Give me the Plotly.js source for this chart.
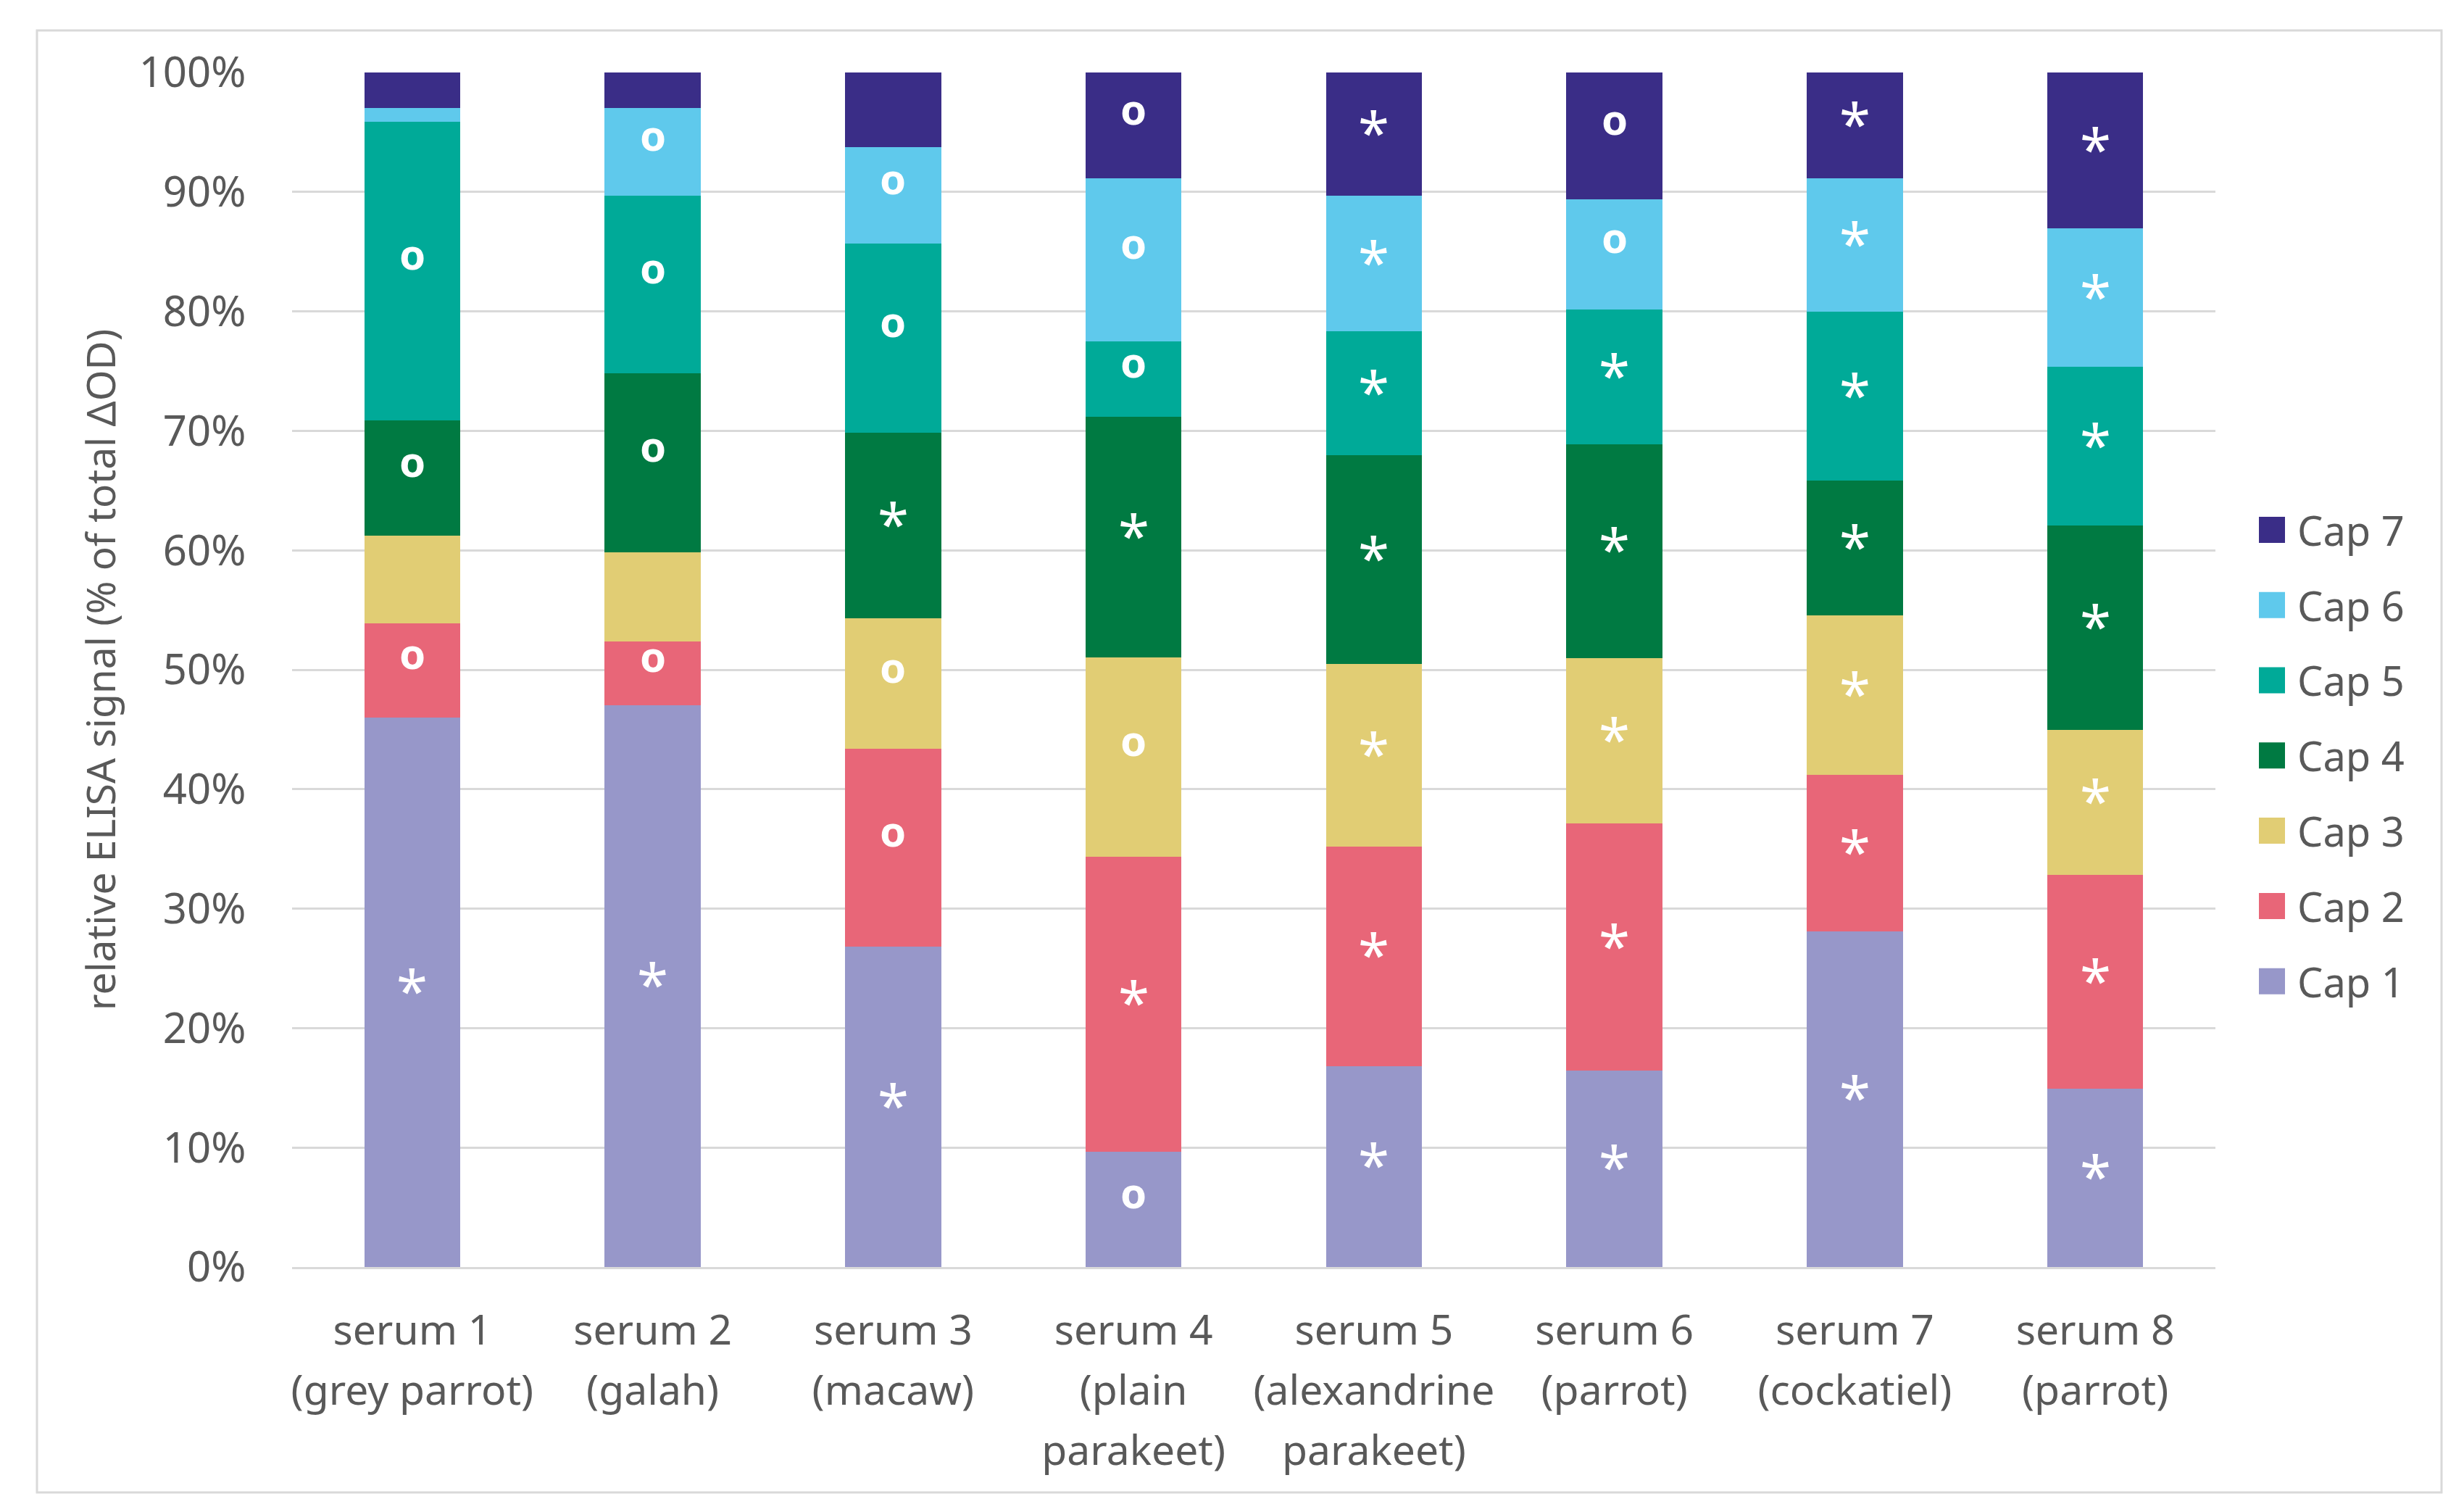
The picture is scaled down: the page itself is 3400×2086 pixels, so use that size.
<!DOCTYPE html>
<html>
<head>
<meta charset="utf-8">
<script src="https://cdn.plot.ly/plotly-3.0.1.min.js"></script>
<style>
  html, body { margin: 0; padding: 0; background: #ffffff; }
  #chart { width: 3400px; height: 2086px; }
</style>
</head>
<body>
<div id="chart"></div>
<script>
// ---------- data ----------
const categories = [
  'serum 1<br>(grey parrot)',
  'serum 2<br>(galah)',
  'serum 3<br>(macaw)',
  'serum 4<br>(plain<br>parakeet)',
  'serum 5<br>(alexandrine<br>parakeet)',
  'serum 6<br>(parrot)',
  'serum 7<br>(cockatiel)',
  'serum 8<br>(parrot)'
];
const seriesNames = ['Cap 1', 'Cap 2', 'Cap 3', 'Cap 4', 'Cap 5', 'Cap 6', 'Cap 7'];

// relative ELISA signal, % of total ΔOD
const cap1 = [46.0, 47.05, 26.8, 9.67, 16.81, 16.47, 28.11, 14.92];
const cap2 = [7.9, 5.3, 16.56, 24.66, 18.41, 20.64, 13.07, 17.9];
const cap3 = [7.3, 7.47, 10.92, 16.71, 15.24, 13.89, 13.38, 12.15];
const cap4 = [9.7, 15.02, 15.59, 20.16, 17.49, 17.88, 11.26, 17.1];
const cap5 = [25.0, 14.82, 15.79, 6.27, 10.37, 11.3, 14.13, 13.27];
const cap6 = [1.15, 7.39, 8.09, 13.66, 11.38, 9.21, 11.18, 11.61];
const cap7 = [2.95, 2.95, 6.24, 8.87, 10.3, 10.61, 8.87, 13.05];

// significance symbols per segment
const sig1 = ['*', '*', '*', 'o', '*', '*', '*', '*'];
const sig2 = ['o', 'o', 'o', '*', '*', '*', '*', '*'];
const sig3 = ['', '', 'o', 'o', '*', '*', '*', '*'];
const sig4 = ['o', 'o', '*', '*', '*', '*', '*', '*'];
const sig5 = ['o', 'o', 'o', 'o', '*', '*', '*', '*'];
const sig6 = ['', 'o', 'o', 'o', '*', 'o', '*', '*'];
const sig7 = ['', '', '', 'o', '*', 'o', '*', '*'];

const yTickVals = [0, 10, 20, 30, 40, 50, 60, 70, 80, 90, 100];
const yTickText = ['0%', '10%', '20%', '30%', '40%', '50%', '60%', '70%', '80%', '90%', '100%'];

// ---------- styling ----------
const colors = ['#9797C9', '#E86678', '#E1CD74', '#007A42', '#00AA98', '#5FC9EC', '#3A2D87'];
const series = [cap1, cap2, cap3, cap4, cap5, cap6, cap7];
const sigs = [sig1, sig2, sig3, sig4, sig5, sig6, sig7];
const FONT = '"Noto Sans", "Open Sans", sans-serif';
const GREY = '#595959';

const traces = series.map((vals, i) => ({
  type: 'bar',
  name: seriesNames[i],
  x: categories,
  y: vals,
  marker: { color: colors[i], line: { width: 0 } },
  legendgroup: 'g' + i,
  legendrank: 100 - i,
  hoverinfo: 'skip'
}));

// annotations at segment centres (computed from the data)
const annotations = [];
const cum = categories.map(() => 0);
series.forEach((vals, i) => {
  vals.forEach((v, j) => {
    const mid = cum[j] + v / 2;
    const s = sigs[i][j];
    if (s === '*') {
      annotations.push({
        x: categories[j], y: mid, xref: 'x', yref: 'y', text: '*', showarrow: false,
        font: { family: FONT, size: 78, color: '#ffffff' }, yshift: 3
      });
    } else if (s === 'o') {
      annotations.push({
        x: categories[j], y: mid, xref: 'x', yref: 'y', text: 'o', showarrow: false,
        font: { family: FONT, size: 58, color: '#ffffff', weight: 'bold' }, yshift: 24
      });
    }
    cum[j] += v;
  });
});

const W = 3400, H = 2086;
const M = { l: 403, r: 343, t: 100, b: 338 };
const pw = W - M.l - M.r, ph = H - M.t - M.b;
const px = v => (v - M.l) / pw;
const py = v => (H - M.b - v) / ph;

const layout = {
  width: W, height: H,
  margin: M,
  paper_bgcolor: '#ffffff',
  plot_bgcolor: '#ffffff',
  barmode: 'stack',
  bargap: 0.6,
  font: { family: FONT, color: GREY, size: 56 },
  showlegend: true,
  legend: {
    x: px(3100), xanchor: 'left',
    y: py(688), yanchor: 'top',
    traceorder: 'grouped',
    tracegroupgap: 28,
    itemwidth: 60,
    font: { family: FONT, size: 56, color: GREY },
    bgcolor: 'rgba(0,0,0,0)'
  },
  xaxis: {
    type: 'category',
    showgrid: false,
    showline: true, linecolor: '#d9d9d9', linewidth: 3,
    ticks: 'outside', ticklen: 36, tickcolor: 'rgba(0,0,0,0)',
    tickfont: { family: FONT, size: 57, color: GREY },
    tickangle: 0,
    automargin: false,
    fixedrange: true
  },
  yaxis: {
    range: [0, 100],
    tickvals: yTickVals, ticktext: yTickText,
    showgrid: true, gridcolor: '#d9d9d9', gridwidth: 3,
    zeroline: false, showline: false,
    ticks: 'outside', ticklen: 51, tickcolor: 'rgba(0,0,0,0)',
    tickfont: { family: FONT, size: 58, color: GREY },
    title: { text: 'relative ELISA signal (% of total ΔOD)', font: { family: FONT, size: 55, color: GREY }, standoff: 14 },
    automargin: true,
    fixedrange: true
  },
  annotations: annotations,
  shapes: [{
    type: 'rect', xref: 'paper', yref: 'paper',
    x0: px(51), x1: px(3369), y0: py(2059), y1: py(42),
    line: { color: '#d9d9d9', width: 3 }, fillcolor: 'rgba(0,0,0,0)', layer: 'below'
  }]
};

Plotly.newPlot('chart', traces, layout, { staticPlot: true, displayModeBar: false }).then(gd => {
  // enlarge the legend swatches to match the reference
  gd.querySelectorAll('.legend .legendpoints path').forEach(p => {
    p.setAttribute('d', 'M18,18H-18V-18H18Z');
  });
  // slightly looser line spacing for the multi-line category labels
  gd.querySelectorAll('.xtick text').forEach(txt => {
    const lines = txt.querySelectorAll('tspan.line');
    lines.forEach((t, k) => { t.setAttribute('dy', (k * 1.45) + 'em'); });
  });
});
</script>
</body>
</html>
